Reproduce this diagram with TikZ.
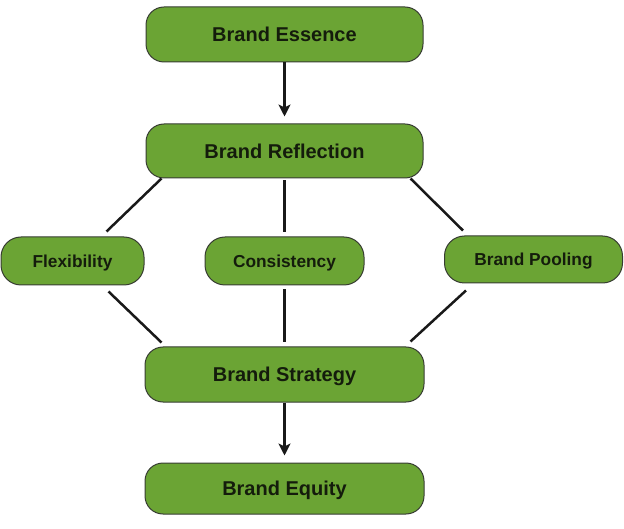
\documentclass[tikz,border=0pt]{standalone}
\usepackage{fontspec}
\setmainfont{Liberation Sans}
\usetikzlibrary{arrows.meta}
\definecolor{boxgreen}{RGB}{107,164,52}
\definecolor{boxline}{RGB}{55,60,50}
\definecolor{txt}{RGB}{20,28,12}
\tikzset{
  bigbox/.style={draw=boxline, line width=1pt, fill=boxgreen, rounded corners=18pt,
    minimum width=277pt, minimum height=55pt, inner sep=0pt,
    text height=14.3pt, text depth=0pt,
    font=\fontsize{20}{24}\selectfont\bfseries, text=txt},
  smallbox/.style={draw=boxline, line width=1pt, fill=boxgreen, rounded corners=20pt,
    minimum height=48pt, inner sep=0pt,
    text height=12.4pt, text depth=0pt,
    font=\fontsize{17.3}{20}\selectfont\bfseries, text=txt},
  link/.style={line width=2.5pt, draw=black!90},
  arr/.style={line width=2.5pt, draw=black!90, -{Stealth[length=12pt,width=12pt,inset=3pt]}}
}
\begin{document}
\begin{tikzpicture}[x=1pt,y=-1pt]
\useasboundingbox (0,0) rectangle (624,529);
\node[bigbox] (ess) at (284.5,34.5) {Brand Essence};
\node[bigbox, minimum height=54pt] (refl) at (284.5,151) {Brand Reflection};
\node[smallbox, minimum width=143pt] (flex) at (72.5,261) {Flexibility};
\node[smallbox, minimum width=159pt] (cons) at (284.5,261) {Consistency};
\node[smallbox, minimum width=178pt, minimum height=47pt] (pool) at (533.5,259.5) {Brand Pooling};
\node[bigbox, minimum width=279pt] (strat) at (284.5,374.5) {Brand Strategy};
\node[bigbox, minimum width=279pt, minimum height=51pt] (eq) at (284.5,488.5) {Brand Equity};

\draw[arr, shorten >=7pt] (ess.south) -- (refl.north);
\draw[arr, shorten >=7pt] (strat.south) -- (eq.north);

\draw[link] ([xshift=16pt]refl.south west) -- ([xshift=-38pt,yshift=5pt]flex.north east);
\draw[link] ([xshift=-36pt,yshift=-6pt]flex.south east) -- ([xshift=17pt,yshift=4pt]strat.north west);
\draw[link] ([yshift=-2pt]refl.south) -- ([yshift=4pt]cons.north);
\draw[link] ([yshift=-4pt]cons.south) -- ([yshift=4pt]strat.north);
\draw[link] ([xshift=-13pt]refl.south east) -- ([xshift=19pt,yshift=5pt]pool.north west);
\draw[link] ([xshift=22pt,yshift=-7pt]pool.south west) -- ([xshift=-14pt,yshift=5pt]strat.north east);
\end{tikzpicture}
\end{document}
